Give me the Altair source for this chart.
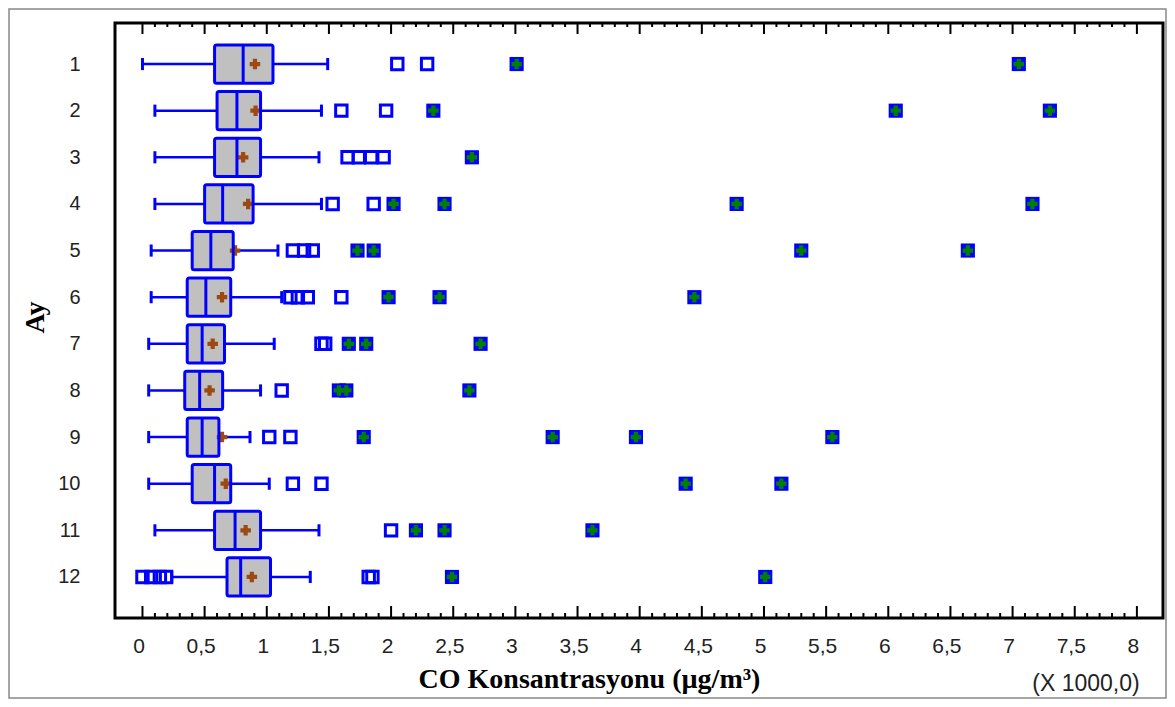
import altair as alt
import pandas as pd

# ---- data (values in thousands of µg/m³) ----
months = [1, 2, 3, 4, 5, 6, 7, 8, 9, 10, 11, 12]
whisker_lo = [0.00, 0.10, 0.10, 0.10, 0.07, 0.07, 0.05, 0.05, 0.05, 0.05, 0.10, 0.235]
q1 =         [0.58, 0.60, 0.58, 0.50, 0.40, 0.36, 0.36, 0.34, 0.36, 0.40, 0.58, 0.68]
median =     [0.81, 0.76, 0.76, 0.645, 0.55, 0.51, 0.48, 0.46, 0.48, 0.58, 0.745, 0.79]
q3 =         [1.05, 0.95, 0.95, 0.89, 0.73, 0.71, 0.66, 0.645, 0.615, 0.71, 0.95, 1.03]
mean =       [0.905, 0.91, 0.81, 0.85, 0.745, 0.64, 0.565, 0.54, 0.64, 0.67, 0.83, 0.88]
whisker_hi = [1.49, 1.44, 1.42, 1.44, 1.09, 1.12, 1.06, 0.95, 0.865, 1.02, 1.42, 1.35]

# outside points (hollow squares)
out_month = [1, 1, 2, 2, 3, 3, 3, 3, 4, 4, 5, 5, 5, 6, 6, 6, 6, 7, 7, 8,
             9, 9, 10, 10, 11, 12, 12, 12, 12, 12, 12]
out_value = [2.05, 2.29, 1.60, 1.96, 1.65, 1.74, 1.84, 1.94, 1.53, 1.86, 1.21, 1.30, 1.37,
             1.19, 1.25, 1.33, 1.60, 1.44, 1.47, 1.12,
             1.02, 1.19, 1.21, 1.44, 2.00, 0.00, 0.07, 0.14, 0.19, 1.82, 1.85]

# far outside points (filled squares with plus)
far_month = [1, 1, 2, 2, 2, 3, 4, 4, 4, 4, 5, 5, 5, 5, 6, 6, 6, 7, 7, 7, 8, 8, 8,
             9, 9, 9, 9, 10, 10, 11, 11, 11, 12, 12]
far_value = [3.01, 7.05, 2.34, 6.06, 7.30, 2.65, 2.02, 2.43, 4.78, 7.16, 1.73, 1.86, 5.30, 6.64,
             1.98, 2.39, 4.44, 1.66, 1.80, 2.72, 1.58, 1.64, 2.63,
             1.78, 3.30, 3.97, 5.55, 4.37, 5.14, 2.20, 2.43, 3.62, 2.49, 5.01]

major_ticks = [i * 0.5 for i in range(17)]
minor_ticks = [i / 10 for i in range(0, 81) if i % 5 != 0]

# ---- frames ----
stats = pd.DataFrame({
    "month": months, "lo": whisker_lo, "q1": q1, "med": median,
    "q3": q3, "mean": mean, "hi": whisker_hi,
})
outs = pd.DataFrame({"month": out_month, "v": out_value})
fars = pd.DataFrame({"month": far_month, "v": far_value})
majors = pd.DataFrame({"t": major_ticks})
minors = pd.DataFrame({"t": minor_ticks})

W, H = 1048, 595
BLUE = "#0000FF"
XDOM = [-0.221, 8.21]
YDOM = [0.12, 12.88]
SANS = "Liberation Sans, Arial, sans-serif"

xs = alt.Scale(domain=XDOM, nice=False, zero=False)
ys = alt.Scale(domain=YDOM, reverse=True, nice=False, zero=False)

x_axis = alt.Axis(
    values=major_ticks, labelExpr="replace(format(datum.value, '.1~f'), '.', ',')",
    grid=False, ticks=False, domain=False, labelFont=SANS,
    labelFontSize=21, labelColor="#222222", labelPadding=17, labelOffset=-4,
    title="CO Konsantrasyonu (µg/m³)", titleFont="Liberation Serif", titleFontSize=28,
    titleFontWeight="bold", titleColor="#000000", titleX=474, titleY=69,
    titleBaseline="alphabetic", titleAnchor="middle",
)
y_axis = alt.Axis(
    values=months, grid=False, ticks=False, domain=False, labelFont=SANS,
    labelFontSize=20, labelColor="#222222", labelPadding=35, labelAlign="right",
    title="Ay", titleFont="Liberation Serif", titleFontSize=28, titleFontWeight="bold",
    titleColor="#000000", titleX=-80, titleY=294, titleBaseline="middle", titleAngle=-90,
)

base = alt.Chart(stats)

box_fill = base.transform_calculate(
    y0="datum.month - 0.41", y1="datum.month + 0.41"
).mark_rect(fill="#C0C0C0", cornerRadius=2).encode(
    x=alt.X("q1:Q", scale=xs, axis=x_axis),
    x2="q3:Q",
    y=alt.Y("y0:Q", scale=ys, axis=y_axis),
    y2="y1:Q",
)

whisk_lo = base.mark_rule(color=BLUE, strokeWidth=2.5).encode(
    x=alt.X("lo:Q", scale=xs), x2="q1:Q", y=alt.Y("month:Q", scale=ys))
whisk_hi = base.mark_rule(color=BLUE, strokeWidth=2.5).encode(
    x=alt.X("q3:Q", scale=xs), x2="hi:Q", y=alt.Y("month:Q", scale=ys))

cap_lo = base.transform_calculate(
    y0="datum.month - 0.13", y1="datum.month + 0.13"
).mark_rule(color=BLUE, strokeWidth=3).encode(
    x=alt.X("lo:Q", scale=xs), y=alt.Y("y0:Q", scale=ys), y2="y1:Q")
cap_hi = base.transform_calculate(
    y0="datum.month - 0.13", y1="datum.month + 0.13"
).mark_rule(color=BLUE, strokeWidth=3).encode(
    x=alt.X("hi:Q", scale=xs), y=alt.Y("y0:Q", scale=ys), y2="y1:Q")

mean_pt = base.mark_point(shape="cross", filled=True, size=110, color="#9C4A12", opacity=1).encode(
    x=alt.X("mean:Q", scale=xs), y=alt.Y("month:Q", scale=ys))

box_line = base.transform_calculate(
    y0="datum.month - 0.41", y1="datum.month + 0.41"
).mark_rect(fill=None, stroke=BLUE, strokeWidth=3, cornerRadius=2).encode(
    x=alt.X("q1:Q", scale=xs), x2="q3:Q", y=alt.Y("y0:Q", scale=ys), y2="y1:Q")

med_line = base.transform_calculate(
    y0="datum.month - 0.41", y1="datum.month + 0.41"
).mark_rule(color=BLUE, strokeWidth=3).encode(
    x=alt.X("med:Q", scale=xs), y=alt.Y("y0:Q", scale=ys), y2="y1:Q")

out_pts = alt.Chart(outs).mark_point(
    shape="square", filled=False, size=130, stroke=BLUE, strokeWidth=3, opacity=1
).encode(x=alt.X("v:Q", scale=xs), y=alt.Y("month:Q", scale=ys))

far_sq = alt.Chart(fars).mark_point(
    shape="square", filled=True, size=200, color=BLUE, opacity=1
).encode(x=alt.X("v:Q", scale=xs), y=alt.Y("month:Q", scale=ys))
far_plus = alt.Chart(fars).mark_point(
    shape="cross", filled=True, size=110, color="#008000", opacity=1
).encode(x=alt.X("v:Q", scale=xs), y=alt.Y("month:Q", scale=ys))

tick_bot_major = alt.Chart(majors).mark_rule(color="#000000", strokeWidth=2).encode(
    x=alt.X("t:Q", scale=xs), y=alt.value(H), y2=alt.value(H - 12))
tick_bot_minor = alt.Chart(minors).mark_rule(color="#000000", strokeWidth=2).encode(
    x=alt.X("t:Q", scale=xs), y=alt.value(H), y2=alt.value(H - 5))
tick_top_major = alt.Chart(majors).mark_rule(color="#000000", strokeWidth=2).encode(
    x=alt.X("t:Q", scale=xs), y=alt.value(0), y2=alt.value(11))
tick_top_minor = alt.Chart(minors).mark_rule(color="#000000", strokeWidth=2).encode(
    x=alt.X("t:Q", scale=xs), y=alt.value(0), y2=alt.value(4))

x_note = alt.Chart(majors.head(1)).mark_text(
    text="(X 1000,0)", font=SANS, fontSize=23, color="#222222",
    align="center", baseline="middle", clip=False
).encode(x=alt.value(971), y=alt.value(661))

outer = alt.Chart(majors.head(1)).mark_rect(
    fill=None, stroke="#888888", strokeWidth=1.5, clip=False
).encode(x=alt.value(-106), x2=alt.value(1051), y=alt.value(-14), y2=alt.value(675))

chart = alt.layer(
    outer, box_fill, whisk_lo, whisk_hi, cap_lo, cap_hi, mean_pt, box_line, med_line,
    out_pts, far_sq, far_plus,
    tick_bot_major, tick_bot_minor, tick_top_major, tick_top_minor, x_note,
).properties(
    width=W, height=H,
    autosize=alt.AutoSizeParams(type="none"),
    padding={"left": 107, "top": 15, "right": 4, "bottom": 81},
    background="#FFFFFF",
).configure_view(
    stroke="#000000", strokeWidth=3
)

chart.save("out.html", embed_options={"renderer": "svg", "actions": False})
